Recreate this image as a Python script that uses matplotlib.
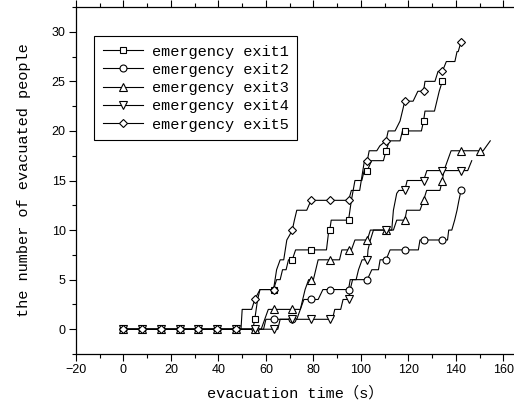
import numpy as np
import matplotlib
matplotlib.use('Agg')
import matplotlib.pyplot as plt
from matplotlib.ticker import MultipleLocator
from matplotlib.legend_handler import HandlerTuple

# ── data ──
# times where the symbols sit (one symbol every 8 samples)
mark_t = [0, 7.9, 15.8, 23.7, 31.6, 39.5, 47.4, 55.3, 63.2, 71.1, 79.0,
          86.9, 94.8, 102.7, 110.6, 118.5, 126.4, 134.3, 142.2, 150.1]

# exit1 (square)
e1_t = [0, 54.5, 55.3, 56.5, 57.5, 63.2, 64.5, 66, 67, 68.5, 69.5, 71.1, 72.5,
        79, 85.5, 86.5, 86.9, 87.5, 94.8, 96, 97.5, 100.4, 101.4, 102.7, 104.5,
        109.5, 110.6, 112, 116.5, 117.5, 118.5, 125.5, 126.4, 127, 131, 132,
        133, 134.3]
e1_y = [0, 0, 1, 3, 4, 4, 5, 5, 6, 6, 7, 7, 8,
        8, 8, 10, 10, 11, 11, 13, 15, 15, 16, 16, 17,
        17, 18, 19, 19, 20, 20, 20, 21, 22, 22, 23,
        24, 25]
e1_m = [0, 0, 0, 0, 0, 0, 0, 1, 4, 7, 8, 10, 11, 16, 18, 20, 21, 25]

# exit2 (circle)
e2_t = [0, 59, 60, 71.1, 73, 74.5, 76, 79, 82, 84, 94.8, 95.5, 102.7, 104.6,
        107.4, 108.1, 110.6, 112.3, 118.5, 124.2, 124.9, 134.3, 136.5, 137,
        138.3, 139.5, 140.5, 141.3, 142.2]
e2_y = [0, 0, 1, 1, 1, 2, 3, 3, 3, 4, 4, 5, 5, 6,
        6, 7, 7, 8, 8, 8, 9, 9, 9, 10,
        10, 11, 12, 13, 14]
e2_m = [0, 0, 0, 0, 0, 0, 0, 0, 1, 1, 3, 4, 4, 5, 7, 8, 9, 9, 14]

# exit3 (triangle up)
e3_t = [0, 58, 59.5, 61, 71.1, 74.5, 75.5, 76.5, 78, 80, 81, 82, 86.9, 91, 92,
        94.8, 96, 97.5, 102.7, 104, 110.6, 113.7, 115.1, 118.5, 119.3, 124.9,
        126.4, 127.7, 133.3, 134.3, 135, 136.5, 138, 150.1, 151.5, 154.5]
e3_y = [0, 0, 1, 2, 2, 2, 3, 4, 5, 5, 6, 7, 7, 7, 8,
        8, 8, 9, 9, 10, 10, 10, 11, 11, 12, 12,
        13, 14, 14, 15, 16, 17, 18, 18, 18, 19]
e3_m = [0, 0, 0, 0, 0, 0, 0, 0, 2, 2, 5, 7, 8, 9, 10, 11, 13, 15, 18, 18]

# exit4 (triangle down)
e4_t = [0, 65, 66, 71.1, 88, 89, 91.5, 92.5, 94.8, 95.5, 96.5, 98, 99, 100.5,
        102.7, 103, 104, 105.3, 110.6, 113, 113.7, 115.1, 116, 118.5, 119.5,
        126.4, 127.8, 134.3, 142.2, 145, 146.7]
e4_y = [0, 0, 1, 1, 1, 2, 2, 3, 3, 4, 5, 5, 6, 7,
        7, 8, 9, 10, 10, 10, 12, 13.7, 14, 14, 15,
        15, 16, 16, 16, 16, 17]
e4_m = [0, 0, 0, 0, 0, 0, 0, 0, 0, 1, 1, 1, 3, 7, 10, 14, 15, 16, 16]

# exit5 (diamond)
e5_t = [0, 49.5, 50, 54, 55.3, 57.5, 63.2, 64.5, 66, 67.5, 68.8, 70, 71.1, 72,
        73, 77.2, 79, 94.8, 96, 99.5, 100.5, 101.5, 102.7, 103.5, 106.7, 108,
        110.6, 111.5, 114.4, 116.5, 117.5, 118.5, 122, 124, 126.4, 127, 131.2,
        132.5, 134.3, 136, 139.6, 140.5, 141, 142.2]
e5_y = [0, 0, 2, 2, 3, 4, 4, 6, 7, 7, 9, 9.5, 10, 11,
        12, 12, 13, 13, 14, 14, 15.5, 17, 17, 18, 18, 18.5,
        19, 20, 20, 21, 22, 23, 23, 24, 24, 25, 25,
        26, 26, 27, 27, 28, 28, 29]
e5_m = [0, 0, 0, 0, 0, 0, 0, 3, 4, 10, 13, 13, 13, 17, 19, 23, 24, 26, 29]

labels = ['emergency exit1', 'emergency exit2', 'emergency exit3',
          'emergency exit4', 'emergency exit5']
series = [(e1_t, e1_y, e1_m, 's', 4.5), (e2_t, e2_y, e2_m, 'o', 5),
          (e3_t, e3_y, e3_m, '^', 5.5), (e4_t, e4_y, e4_m, 'v', 5.5),
          (e5_t, e5_y, e5_m, 'D', 4.5)]

txt_font = ['Liberation Mono', 'Noto Sans CJK SC']

fig = plt.figure(figsize=(5.14, 4.08), dpi=100)
ax = fig.add_axes([76 / 514, 54 / 408, 438 / 514, 347 / 408])

handles = []
for t, y, m, mk, ms in series:
    ln, = ax.plot(t, y, color='black', lw=0.8, zorder=2)
    pts, = ax.plot(mark_t[:len(m)], m, ls='none', marker=mk, ms=ms,
                   mfc='white', mec='black', mew=0.8, zorder=3)
    handles.append((ln, pts))

ax.set_xlim(-20, 164.5)
ax.set_ylim(-2.5, 32.5)
ax.set_xticks(np.arange(-20, 161, 20))
ax.set_yticks(np.arange(0, 31, 5))
ax.xaxis.set_minor_locator(MultipleLocator(10))
ax.yaxis.set_minor_locator(MultipleLocator(2.5))
ax.tick_params(which='major', direction='out', length=5, width=0.8,
               labelsize=9, pad=2.5, top=True, right=False)
ax.tick_params(which='minor', direction='out', length=3, width=0.8,
               top=True, right=False)
for lab in ax.get_xticklabels() + ax.get_yticklabels():
    lab.set_family('Liberation Sans')
ax.spines['right'].set_visible(False)
for s in ['left', 'bottom', 'top']:
    ax.spines[s].set_linewidth(0.9)

ax.set_xlabel('evacuation time（s）', family=txt_font, fontsize=11, labelpad=7)
ax.set_ylabel('the number of evacuated people', family=txt_font, fontsize=11,
              labelpad=15)

leg = ax.legend(handles, labels, handler_map={tuple: HandlerTuple(ndivide=1)},
                loc='upper left', bbox_to_anchor=(0.042, 0.916),
                prop={'family': txt_font, 'size': 11}, frameon=True,
                fancybox=False, edgecolor='black', framealpha=1,
                handlelength=2.6, handletextpad=0.6, labelspacing=0.28,
                borderpad=0.55, borderaxespad=0)
leg.get_frame().set_linewidth(0.8)

plt.savefig('out.png', dpi=100)
plt.close()
